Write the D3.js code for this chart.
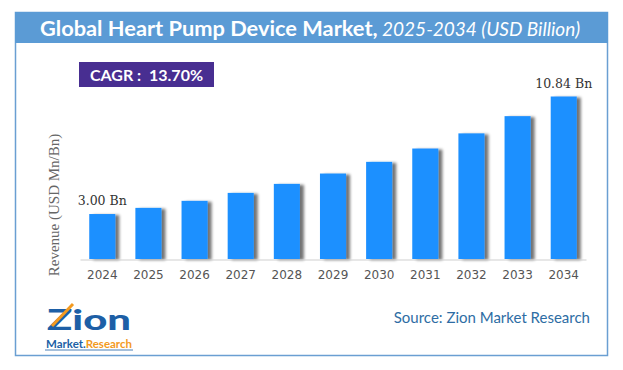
<!DOCTYPE html>
<html><head><meta charset="utf-8">
<script src="https://cdn.jsdelivr.net/npm/d3@7"></script>
<style>body{margin:0;background:#fff}svg{display:block}</style>
</head><body>
<svg id="c" width="623" height="370"></svg>
<script>
const years = ["2024","2025","2026","2027","2028","2029","2030","2031","2032","2033","2034"];
const revenue = [3.00,3.41,3.88,4.41,5.01,5.70,6.48,7.37,8.38,9.53,10.84];
const labelFirst = "3.00 Bn";
const labelLast = "10.84 Bn";
const titleMain = "Global Heart Pump Device Market,";
const titleSub = " 2025-2034 (USD Billion)";
const cagrText = "CAGR :  13.70%";
const yTitle = "Revenue (USD Mn/Bn)";
const sourceText = "Source: Zion Market Research";

const svg = d3.select("#c");
const defs = svg.append("defs");
const f = defs.append("filter").attr("id","sh").attr("x","-20%").attr("y","-10%").attr("width","160%").attr("height","130%");
f.append("feGaussianBlur").attr("in","SourceAlpha").attr("stdDeviation",1.6).attr("result","b");
f.append("feOffset").attr("in","b").attr("dx",3.5).attr("dy",1).attr("result","o");
f.append("feComponentTransfer").attr("in","o").attr("result","o2").append("feFuncA").attr("type","linear").attr("slope",0.55);
const m = f.append("feMerge"); m.append("feMergeNode").attr("in","o2"); m.append("feMergeNode").attr("in","SourceGraphic");
const lg = defs.append("linearGradient").attr("id","dg");
lg.append("stop").attr("offset","0").attr("stop-color","#f07a2a");
lg.append("stop").attr("offset","1").attr("stop-color","#f6c7a6");

// frame + header
svg.append("rect").attr("x",15.5).attr("y",12.5).attr("width",592).attr("height",343).attr("fill","#fff").attr("stroke","#6a9fd2").attr("stroke-width",1.5);
svg.append("rect").attr("x",15).attr("y",12).attr("width",593).attr("height",31).attr("fill","#5b9bd5");
const tt = svg.append("text").attr("x",310).attr("y",35.5).attr("text-anchor","middle").attr("fill","#fff").style("font-family","Lato, 'Open Sans', sans-serif");
tt.append("tspan").attr("font-weight","bold").attr("font-size",21.8).text(titleMain);
tt.append("tspan").attr("font-style","italic").attr("font-size",19).text(titleSub);
svg.append("line").attr("x1",50).attr("x2",591).attr("y1",52.5).attr("y2",52.5).attr("stroke","url(#dg)").attr("stroke-width",1.3).attr("stroke-dasharray","3.5,2.5");

// CAGR
svg.append("rect").attr("x",79).attr("y",62).attr("width",135).attr("height",25).attr("fill","#482e91");
svg.append("text").attr("x",146.5).attr("y",80.5).attr("text-anchor","middle").attr("fill","#fff").attr("font-weight","bold").attr("font-size",16).style("font-family","Lato, 'Open Sans', sans-serif").style("white-space","pre").text(cagrText);

// scales
const x = d3.scaleBand().domain(years).range([80,586]).paddingInner(0.435).paddingOuter(0.2);
const y = d3.scaleLinear().domain([0,10.84]).range([259,96.5]);

svg.append("g").selectAll("rect").data(years).join("rect")
  .attr("x",d=>x(d)).attr("width",x.bandwidth())
  .attr("y",(d,i)=>y(revenue[i])).attr("height",(d,i)=>y(0)-y(revenue[i]))
  .attr("fill","#1e90ff").attr("filter","url(#sh)");

const ax = svg.append("g").attr("transform","translate(0,259.5)").call(d3.axisBottom(x).tickSize(0).tickPadding(11));
ax.select(".domain").attr("stroke","#d0d0d0").attr("stroke-width",1.2);
ax.selectAll("text").attr("fill","#555").attr("font-size",12).style("font-family","'DejaVu Sans', Verdana, sans-serif");

svg.append("text").attr("transform","translate(59,205) rotate(-90)").attr("text-anchor","middle").attr("fill","#666").attr("font-size",15).style("font-family","'Liberation Serif', 'Times New Roman', serif").text(yTitle);

svg.append("text").attr("x",x(years[0])+x.bandwidth()/2).attr("y",205).attr("text-anchor","middle").attr("fill","#333").attr("font-size",12.5).style("font-family","'DejaVu Serif', serif").text(labelFirst);
svg.append("text").attr("x",x(years[10])+x.bandwidth()/2).attr("y",88).attr("text-anchor","middle").attr("fill","#333").attr("font-size",12.5).style("font-family","'DejaVu Serif', serif").text(labelLast);

svg.append("text").attr("x",590).attr("y",323).attr("text-anchor","end").attr("fill","#2e6da4").attr("font-size",15).style("font-family","Lato, 'Open Sans', sans-serif").text(sourceText);

// logo
const lgG = svg.append("g");
lgG.append("text").attr("x",47).attr("y",330).attr("fill","#1d5fa6").attr("font-weight","900").attr("font-size",28).style("font-family","Lato, sans-serif")
  .attr("textLength",84).attr("lengthAdjust","spacingAndGlyphs").text("Zion");
lgG.append("line").attr("x1",52).attr("y1",326).attr("x2",73).attr("y2",304).attr("stroke","#f39a1f").attr("stroke-width",3);
lgG.append("text").attr("x",46).attr("y",348).attr("font-weight","bold").attr("font-size",10.5).style("font-family","Lato, sans-serif")
  .attr("textLength",86).attr("lengthAdjust","spacingAndGlyphs")
  .call(t=>{t.append("tspan").attr("fill","#1d5fa6").text("Market.");t.append("tspan").attr("fill","#f39a1f").text("Research");});
lgG.append("line").attr("x1",45).attr("x2",133).attr("y1",350).attr("y2",350).attr("stroke","#1d5fa6").attr("stroke-width",0.8);
</script>
</body></html>
